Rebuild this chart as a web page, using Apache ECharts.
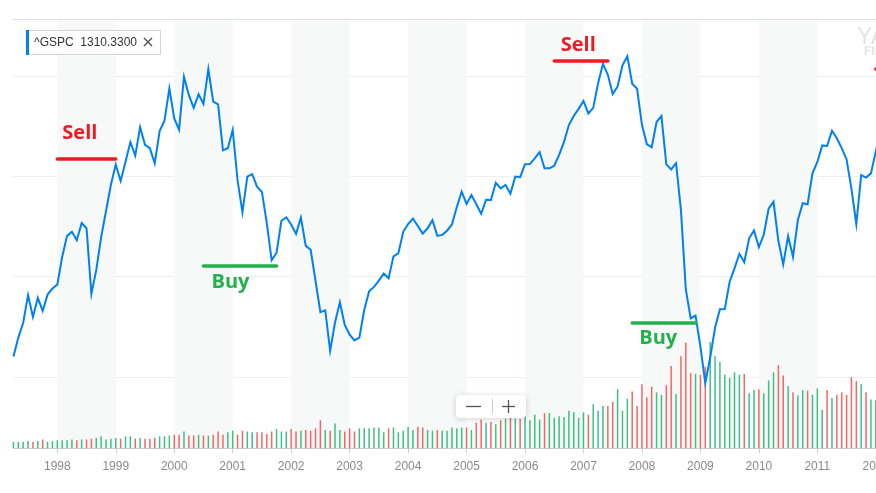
<!DOCTYPE html>
<html>
<head>
<meta charset="utf-8">
<title>^GSPC monthly</title>
<script src="https://cdn.jsdelivr.net/npm/echarts@6/dist/echarts.min.js"></script>
<style>
  html, body { margin: 0; padding: 0; overflow: hidden; background: #fff; }
  /* a bit wider than the window: the chart runs off the right edge like the screenshot */
  #chart { width: 900px; height: 493px; }
</style>
</head>
<body>
<div id="chart"></div>
<script>
// monthly closes, Apr 1997 .. May 2012
const firstMonth = [1997, 4];
const closes = [
  801.34, 848.28, 885.14, 954.31, 899.47, 947.28, 914.62, 955.40, 970.43,
  980.28, 1049.34, 1101.75, 1111.75, 1090.82, 1133.84, 1120.67, 957.28, 1017.01, 1098.67, 1163.63, 1229.23,
  1279.64, 1238.33, 1286.37, 1335.18, 1301.84, 1372.71, 1328.72, 1320.41, 1282.71, 1362.93, 1388.91, 1469.25,
  1394.46, 1366.42, 1498.58, 1452.43, 1420.60, 1454.60, 1430.83, 1517.68, 1436.51, 1429.40, 1314.95, 1320.28,
  1366.01, 1239.94, 1160.33, 1249.46, 1255.82, 1224.42, 1211.23, 1133.58, 1040.94, 1059.78, 1139.45, 1148.08,
  1130.20, 1106.73, 1147.39, 1076.92, 1067.14, 989.82, 911.62, 916.07, 815.28, 885.76, 936.31, 879.82,
  855.70, 841.15, 848.18, 916.92, 963.59, 974.50, 990.31, 1008.01, 995.97, 1050.71, 1058.20, 1111.92,
  1131.13, 1144.94, 1126.21, 1107.30, 1120.68, 1140.84, 1101.72, 1104.24, 1114.58, 1130.20, 1173.82, 1211.92,
  1181.27, 1203.60, 1180.59, 1156.85, 1191.50, 1191.33, 1234.18, 1220.33, 1228.81, 1207.01, 1249.48, 1248.29,
  1280.08, 1280.66, 1294.83, 1310.61, 1270.09, 1270.20, 1276.66, 1303.82, 1335.85, 1377.94, 1400.63, 1418.30,
  1438.24, 1406.82, 1420.86, 1482.37, 1530.62, 1503.35, 1455.27, 1473.99, 1526.75, 1549.38, 1481.14, 1468.36,
  1378.55, 1330.63, 1322.70, 1385.59, 1400.38, 1280.00, 1267.38, 1282.83, 1166.36, 968.75, 896.24, 903.25,
  825.88, 735.09, 797.87, 872.81, 919.14, 919.32, 987.48, 1020.62, 1057.08, 1036.19, 1095.63, 1115.10,
  1073.87, 1104.49, 1169.43, 1186.69, 1089.41, 1030.71, 1101.60, 1049.33, 1141.20, 1183.26, 1180.55, 1257.64,
  1286.12, 1327.22, 1325.83, 1363.61, 1345.20, 1320.64, 1292.28, 1218.89, 1131.42, 1253.30, 1246.96, 1257.60,
  1312.41, 1365.68, 1408.47, 1397.91, 1310.33
];
const prevClose = 757.12; // Mar 1997, only used to colour the first bar

// monthly volume (billions of shares)
const volumes = [
  8, 8, 8, 9, 8, 9, 11, 8, 9,
  10, 10, 10, 11, 10, 11, 11, 12, 13, 15, 11, 12,
  13, 12, 15, 15, 12, 13, 12, 12, 13, 15, 15, 16,
  17, 17, 21, 16, 16, 17, 16, 16, 17, 21, 17, 20,
  22, 17, 22, 21, 20, 20, 20, 18, 21, 24, 21, 21,
  24, 21, 22, 23, 22, 25, 35, 23, 22, 31, 23, 21,
  25, 21, 25, 25, 25, 26, 26, 20, 25, 26, 20, 22,
  27, 23, 27, 26, 23, 22, 23, 22, 22, 26, 25, 26,
  26, 23, 32, 36, 32, 33, 30, 35, 37, 39, 37, 37,
  41, 35, 42, 36, 44, 44, 38, 40, 39, 47, 45, 38,
  45, 42, 55, 47, 53, 53, 58, 74, 47, 62, 71, 53,
  80, 64, 77, 70, 67, 79, 103, 68, 115, 132, 94, 93,
  92, 102, 133, 115, 108, 92, 88, 95, 92, 93, 69, 73,
  74, 69, 85, 95, 104, 91, 78, 70, 66, 73, 72, 67,
  75, 48, 73, 63, 67, 70, 67, 89, 84, 80, 70, 61,
  60, 62, 63, 60, 62
];

// hand drawn buy / sell marks
const signalNames = ['Sell', 'Buy', 'Sell', 'Buy', 'Sell'];
const signalFrom = ['1998-01', '2000-07', '2006-07', '2007-11', '2012-01'];
const signalTo = ['1999-01', '2001-10', '2007-06', '2008-12', '2012-05'];
const signalLevel = [1295, 1028, 1538, 885, 1518];
const signalLabelGap = [[5, 15], [8, 7], [6.5, 6], [7, 5], [6, 6]];

const months = closes.map((_, i) => {
  const m = firstMonth[1] - 1 + i;
  return (firstMonth[0] + Math.floor(m / 12)) + '-' + String(m % 12 + 1).padStart(2, '0');
});
const isJanuary = (idx, val) => val.slice(5) === '01';

const upColor = '#3cc184';
const downColor = '#fa6464';
const lineBlue = '#0081f2';
const sellRed = '#ed1c24';
const buyGreen = '#22b14c';
const uiFont = 'Liberation Sans';

const volumeBars = volumes.map((v, i) => ({
  value: v,
  itemStyle: { color: closes[i] >= (i ? closes[i - 1] : prevClose) ? upColor : downColor }
}));

const signalLines = signalNames.map((name, i) => {
  const isSell = name === 'Sell';
  return [
    {
      coord: [signalFrom[i], signalLevel[i]],
      lineStyle: { color: isSell ? sellRed : buyGreen, width: 3.5, type: 'solid', cap: 'round' },
      label: {
        show: true,
        formatter: name,
        position: isSell ? 'insideStartTop' : 'insideStartBottom',
        distance: signalLabelGap[i],
        color: isSell ? sellRed : buyGreen,
        fontFamily: 'Open Sans',
        fontWeight: 'bold',
        fontSize: 20
      }
    },
    { coord: [signalTo[i], signalLevel[i]] }
  ];
});

const chart = echarts.init(document.getElementById('chart'));

const option = {
  animation: false,
  textStyle: { fontFamily: uiFont },
  grid: [
    { left: 13.45, right: 4.7, top: 25.95, bottom: 15.7 },  // price
    { left: 13.45, right: 4.7, top: 19, bottom: 44.7 }      // volume + time axis
  ],
  xAxis: [
    { type: 'category', gridIndex: 0, data: months, boundaryGap: false, show: false },
    {
      type: 'category', gridIndex: 1, data: months, boundaryGap: false,
      axisLine: { lineStyle: { color: '#cfcfcf' } },
      axisTick: { interval: isJanuary, length: 5, lineStyle: { color: '#cfcfcf' } },
      axisLabel: {
        interval: isJanuary,
        formatter: v => v.slice(0, 4),
        color: '#8a8a8a',
        fontSize: 12,
        margin: 12
      },
      splitArea: {
        show: true,
        interval: isJanuary,
        areaStyle: { color: ['#f7f8f8', 'rgba(255,255,255,0)'] }
      }
    },
    {
      // top frame line
      type: 'category', gridIndex: 1, data: months, boundaryGap: false, position: 'top',
      axisLine: { onZero: false, lineStyle: { color: '#e0e0e0' } },
      axisTick: { show: false },
      axisLabel: { show: false }
    }
  ],
  yAxis: [
    {
      type: 'value', gridIndex: 0, min: 500, max: 1625, interval: 250,
      axisLine: { show: false }, axisTick: { show: false }, axisLabel: { show: false },
      splitLine: { show: true, showMinLine: false, showMaxLine: false, lineStyle: { color: '#eeeeee' } }
    },
    { type: 'value', gridIndex: 1, min: 0, max: 537, show: false }
  ],
  series: [
    {
      name: 'Volume',
      type: 'bar',
      xAxisIndex: 1,
      yAxisIndex: 1,
      data: volumeBars,
      barWidth: 1.5,
      silent: true
    },
    {
      name: '^GSPC',
      type: 'line',
      xAxisIndex: 0,
      yAxisIndex: 0,
      data: closes,
      symbol: 'none',
      z: 3,
      lineStyle: { color: lineBlue, width: 2, join: 'miter', miterLimit: 10 },
      markLine: {
        silent: true,
        symbol: ['none', 'none'],
        data: signalLines
      }
    }
  ],
  graphic: [
    // legend chip
    { type: 'rect', z: 100, shape: { x: 26.5, y: 30.5, width: 134, height: 24 },
      style: { fill: '#fff', stroke: '#d3d3d3', lineWidth: 1 } },
    { type: 'rect', z: 101, shape: { x: 26, y: 30, width: 3, height: 25 }, style: { fill: lineBlue } },
    { type: 'text', z: 101, x: 34, y: 43,
      style: { text: '^GSPC  ' + closes[closes.length - 1].toFixed(4), fill: '#333', font: '12px "Liberation Sans"', verticalAlign: 'middle' } },
    { type: 'text', z: 101, x: 148, y: 42.5,
      style: { text: '\u00d7', fill: '#555', font: '16px "DejaVu Sans"', align: 'center', verticalAlign: 'middle' } },
    // watermark (cut by the window edge)
    { type: 'text', z: 1, x: 857, y: 26,
      style: { text: 'YAHOO!', fill: '#e4e4e4', font: '23px "Liberation Sans"' } },
    { type: 'text', z: 1, x: 864, y: 46,
      style: { text: 'FINANCE', fill: '#e4e4e4', font: 'bold 12px "Liberation Sans"' } },
    // zoom buttons
    { type: 'rect', z: 100, shape: { x: 456, y: 395, width: 70, height: 23, r: 4 },
      style: { fill: '#fff', shadowBlur: 6, shadowOffsetY: 1, shadowColor: 'rgba(0,0,0,0.18)' } },
    { type: 'line', z: 101, shape: { x1: 466, y1: 406.5, x2: 481, y2: 406.5 }, style: { stroke: '#555', lineWidth: 1.3 } },
    { type: 'line', z: 101, shape: { x1: 492.5, y1: 399, x2: 492.5, y2: 414 }, style: { stroke: '#cccccc', lineWidth: 1 } },
    { type: 'line', z: 101, shape: { x1: 502, y1: 406.5, x2: 515, y2: 406.5 }, style: { stroke: '#555', lineWidth: 1.3 } },
    { type: 'line', z: 101, shape: { x1: 508.5, y1: 400, x2: 508.5, y2: 413 }, style: { stroke: '#555', lineWidth: 1.3 } }
  ]
};

chart.setOption(option);
</script>
</body>
</html>
